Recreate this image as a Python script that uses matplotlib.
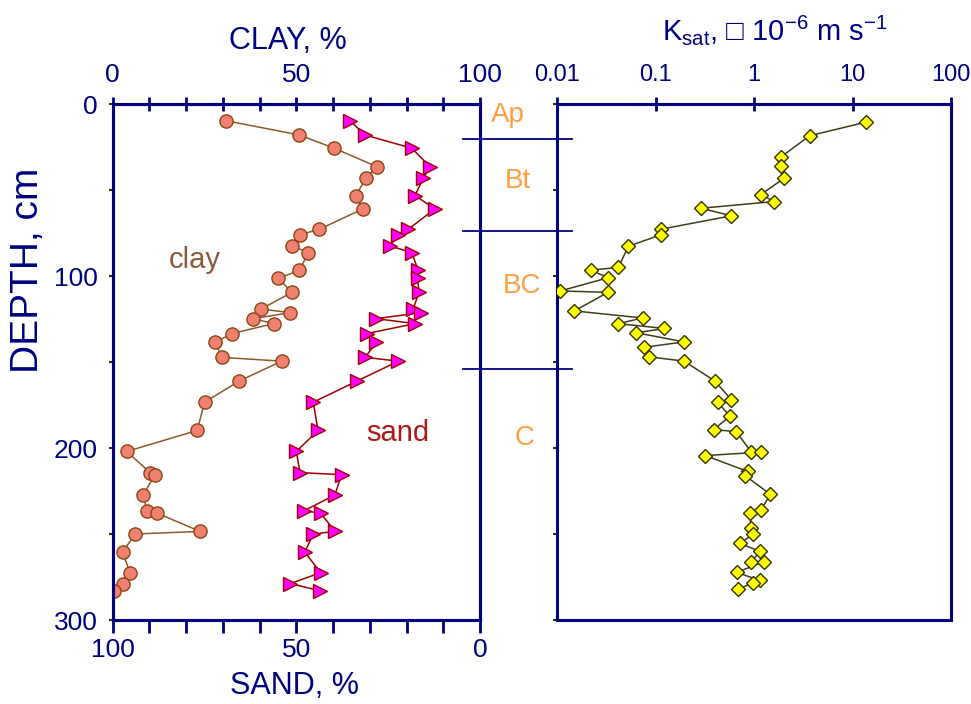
import matplotlib
matplotlib.use('Agg')
import matplotlib.pyplot as plt
from matplotlib.transforms import blended_transform_factory
from matplotlib.lines import Line2D
from matplotlib.ticker import NullLocator

# ---------------- data ----------------
depth = [9.7, 18, 25.7, 36.4, 43, 53.2, 61, 72.8, 76, 82.5, 86.4, 96.8, 101.3,
         109.5, 119.2, 121.3, 124.8, 127.7, 133.5, 138.6, 147.3, 149.5, 161,
         173.4, 189.8, 202, 214.3, 215.5, 227.3, 236.5, 237.8, 248.5, 250,
         260.5, 272.5, 278.8, 283]
clay = [30.8, 50.8, 60.3, 71.9, 69, 66.2, 68.1, 56.3, 51, 48.8, 53.3, 50.8, 45.1,
        48.8, 40.4, 48.3, 38.3, 43.8, 32.4, 27.9, 29.7, 46, 34.5, 25, 23, 3.8,
        10.2, 11.5, 8.3, 9.3, 12, 23.8, 6.1, 2.7, 4.7, 2.9, 0.4]
sand = [35.4, 31.3, 18.6, 13.6, 15.4, 17.7, 12.3, 19.5, 22.4, 24.5, 18.6, 16.8, 17.0,
        16.6, 18.2, 16.1, 28.2, 17.7, 30.9, 28.2, 31.3, 22.2, 33.4, 45.4, 44.1, 50,
        49, 37.7, 39.5, 47.9, 43.4, 39.5, 45.4, 47.7, 43.4, 51.6, 43.6]

ksat_depth = [10.5, 18.5, 31, 36, 43, 52.7, 56.7, 60.6, 65, 72.8, 76, 82.7, 95, 96.6,
              101, 108.7, 109.5, 120.3, 124.4, 127.7, 130.5, 133, 138.3, 141.5, 147,
              149.5, 161, 172, 173.5, 181.5, 189.3, 190.5, 202.4, 202.4, 204.4, 213.6,
              216, 227, 236, 238, 246.5, 250, 255.5, 260, 266.5, 266, 272.3, 277,
              278.6, 282]
ksat = [13.8, 3.66, 1.86, 1.86, 2.04, 1.17, 1.61, 0.29, 0.59, 0.114, 0.114, 0.053,
        0.042, 0.022, 0.033, 0.0108, 0.033, 0.015, 0.074, 0.042, 0.123, 0.064, 0.195,
        0.076, 0.086, 0.195, 0.40, 0.59, 0.43, 0.57, 0.39, 0.66, 0.94, 1.17, 0.32,
        0.86, 0.81, 1.47, 1.17, 0.91, 0.94, 0.98, 0.72, 1.14, 0.94, 1.27, 0.67, 1.14,
        0.98, 0.68]

horizon_names = ['Ap', 'Bt', 'BC', 'C']
horizon_label_depth = [6.5, 45, 106, 194]
horizon_label_x = [508, 518, 522, 525]
horizon_bounds = [20.5, 74, 154]

clay_ticks = list(range(0, 101, 10))
clay_ticklabels = ['0', '', '', '', '', '50', '', '', '', '', '100']
depth_ticks = list(range(0, 301, 50))
depth_ticklabels = ['0', '', '100', '', '200', '', '300']
ksat_ticks = [0.01, 0.1, 1, 10, 100]
ksat_ticklabels = ['0.01', '0.1', '1', '10', '100']

# ---------------- style ----------------
plt.rcParams['font.family'] = ['Liberation Sans', 'DejaVu Sans']
NAVY = '#000080'
TICKDARK = '#333300'
W, H = 971, 704
FS = 19
TITLE_FS = 22

fig = plt.figure(figsize=(W / 100, H / 100), dpi=100)
fig.patch.set_facecolor('white')

def px(x0, y0, x1, y1):
    return [x0 / W, 1 - y1 / H, (x1 - x0) / W, (y1 - y0) / H]

ax = fig.add_axes(px(112.7, 104, 480, 620))
ax3 = fig.add_axes(px(557, 104, 951, 620))
ax2 = ax.twiny()   # sand axis (bottom), created before configuring ax

for a in (ax, ax2, ax3):
    for s in a.spines.values():
        s.set_color(NAVY)
        s.set_linewidth(2.2)

for a in (ax, ax3):
    a.set_ylim(300, 0)
    a.set_yticks(depth_ticks)
    a.tick_params(axis='y', direction='out', length=3, width=1.5, color=TICKDARK,
                  labelcolor=NAVY, labelsize=FS, pad=8)
ax.set_yticklabels(depth_ticklabels)
ax3.set_yticklabels([''] * len(depth_ticks))

# clay axis (top)
ax.set_xlim(0, 100)
ax.xaxis.tick_top()
ax.set_xticks(clay_ticks)
ax.set_xticklabels(clay_ticklabels)
ax.tick_params(axis='x', which='both', top=True, bottom=False, labeltop=True,
               labelbottom=False, direction='inout', length=10, width=2,
               color=NAVY, labelcolor=NAVY, labelsize=FS, pad=7)
ax.plot(clay, depth, color='#8B5A2B', lw=1.1, marker='o', ms=9.5,
        mfc='#F08070', mec='#8B4513', mew=1.0, zorder=3)

# sand axis (bottom)
ax2.set_xlim(100, 0)
ax2.xaxis.tick_bottom()
ax2.set_xticks(clay_ticks)
ax2.set_xticklabels(clay_ticklabels)
ax2.tick_params(axis='x', which='both', top=False, bottom=True, labeltop=False,
                labelbottom=True, direction='out', length=9, width=2,
                color=NAVY, labelcolor=NAVY, labelsize=FS, pad=4)
ax2.plot(sand, depth, color='#A00000', lw=1.1, marker='>', ms=10,
         mfc='#FF00FF', mec='#A00000', mew=1.0, zorder=3)

ax.text(22.4, 90.5, 'clay', color='#8B5A3C', fontsize=21, ha='center', va='center')
ax2.text(22.3, 191, 'sand', color='#B01818', fontsize=21, ha='center', va='center')

# Ksat axis
ax3.set_xscale('log')
ax3.set_xlim(0.01, 100)
ax3.xaxis.tick_top()
ax3.set_xticks(ksat_ticks)
ax3.set_xticklabels(ksat_ticklabels)
ax3.xaxis.set_minor_locator(NullLocator())
ax3.tick_params(axis='x', direction='inout', length=10, width=2, color=NAVY,
                labelcolor=NAVY, labelsize=17, pad=8)
ax3.plot(ksat, ksat_depth, color='#3E3E1A', lw=1.1, marker='D', ms=7.5,
         mfc='#FFFF00', mec='#333300', mew=1.0, zorder=3)

# horizon boundaries and labels (x in figure fraction, y in depth)
tr = blended_transform_factory(fig.transFigure, ax.transData)
for b in horizon_bounds:
    fig.add_artist(Line2D([463 / W, 572 / W], [b, b], transform=tr,
                          color=NAVY, lw=1.3, zorder=5))
for name, d, xp in zip(horizon_names, horizon_label_depth, horizon_label_x):
    fig.text(xp / W, d, name, transform=tr, color='#FFA040', fontsize=20,
             ha='center', va='center')

# axis titles
fig.text(288 / W, 1 - 41 / H, 'CLAY, %', color=NAVY, fontsize=TITLE_FS,
         ha='center', va='center')
fig.text(295 / W, 1 - 686 / H, 'SAND, %', color=NAVY, fontsize=TITLE_FS,
         ha='center', va='center')
fig.text(28 / W, 1 - 270 / H, 'DEPTH, cm', color=NAVY, fontsize=28,
         ha='center', va='center', rotation=90)
fig.text(775 / W, 1 - 30 / H,
         r'K$_{\mathregular{sat}}$, □ 10$^{\mathregular{-6}}$ m s$^{\mathregular{-1}}$',
         color=NAVY, fontsize=21, ha='center', va='center')

fig.savefig('out.png', dpi=100)
